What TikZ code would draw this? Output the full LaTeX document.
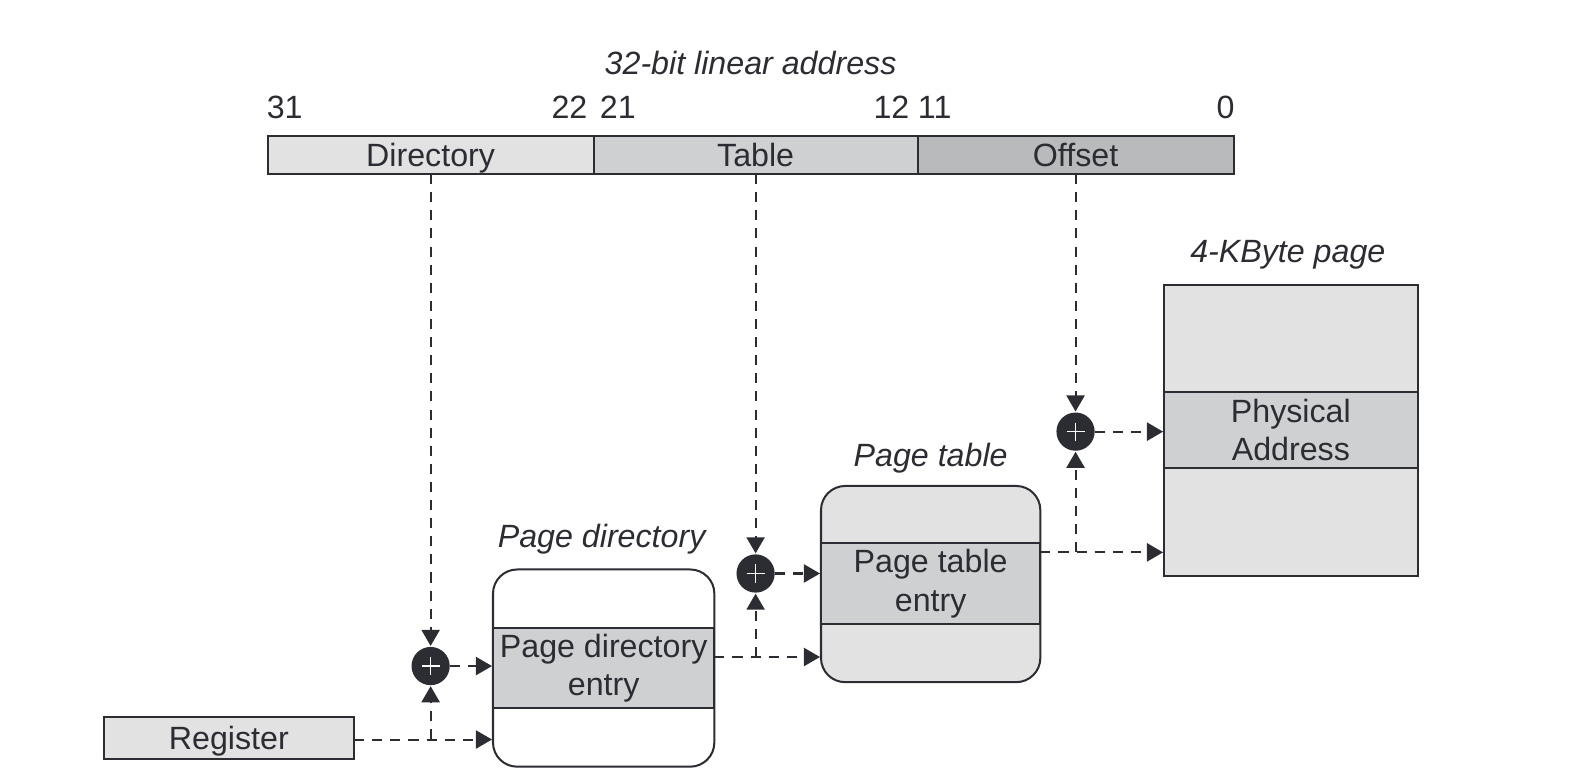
\documentclass[tikz,border=0pt]{standalone}
\usepackage{fontspec}
\setmainfont{Liberation Sans}
\definecolor{inkdark}{RGB}{43, 45, 51}
\definecolor{greylight}{RGB}{226, 226, 227}
\definecolor{greymid}{RGB}{207, 208, 210}
\definecolor{greydark}{RGB}{185, 186, 188}
\usetikzlibrary{arrows.meta, positioning, calc}

\begin{document}
\begin{tikzpicture}[x=0.5pt, y=-0.5pt, font=\fontsize{16}{19}\selectfont, text=inkdark,
  field/.style={draw=inkdark, line width=1pt, inner sep=0pt, outer sep=0pt, minimum height=19pt, text height=13pt, text depth=2pt},
  tablebox/.style={draw=inkdark, line width=1pt, inner sep=0pt, outer sep=0pt, minimum width=110pt, rounded corners=12pt},
  entry/.style={draw=inkdark, line width=1pt, fill=greymid, inner sep=0pt, outer sep=0pt, align=center, minimum width=110pt, minimum height=40pt},
  adder/.style={circle, fill=inkdark, minimum size=19pt, inner sep=0pt, outer sep=0pt},
  caption/.style={font=\fontsize{16}{19}\selectfont\itshape},
  link/.style={draw=inkdark, line width=1pt, dash pattern=on 5pt off 4pt, -{Triangle[length=8pt, width=9pt]}, shorten >=0.5pt}]
  \useasboundingbox (0,0) rectangle (1568.4,772.2);

  % Linear address
  \node[caption] (title) at (746,63) {32-bit linear address};
  \node (b31) at (283,107) {31};
  \node (b22) at (566,107) {22};
  \node (b21) at (614,107) {21};
  \node (b12) at (886,107) {12};
  \node (b11) at (929,107) {11};
  \node (b0) at (1218,107) {0};
  \node[field, fill=greylight, minimum width=162pt] (dir) at (428,154) {Directory};
  \node[field, fill=greymid, minimum width=161pt] (tab) at (751,154) {Table};
  \node[field, fill=greydark, minimum width=157pt] (off) at (1069,154) {Offset};

  % Register
  \node[field, fill=greylight, minimum width=124.5pt, minimum height=20.5pt] (reg) at (227.5,733.5) {Register};

  % Page directory
  \node[caption] (pdcap) at (598,536) {Page directory};
  \node[tablebox, fill=white, minimum height=98pt] (pdir) at (600,664) {};
  \node[entry] (pde) at (600,664) {Page directory\\entry};

  % Page table
  \node[caption] (ptcap) at (925,455) {Page table};
  \node[tablebox, fill=greylight, minimum width=109pt, minimum height=97.5pt] (ptab) at (925,580.5) {};
  \node[entry, minimum width=109pt] (pte) at (925,580) {Page table\\entry};

  % 4-KByte page
  \node[caption] (pgcap) at (1280,253) {4-KByte page};
  \node[field, fill=greylight, minimum width=126pt, minimum height=144.5pt] (page) at (1283,427.5) {};
  \node[entry, minimum width=126pt, minimum height=37.5pt] (phys) at (1283,427.5) {Physical\\Address};

  % Adders
  \node[adder] (add1) at (428,662) {};
  \node[adder] (add2) at (751,570) {};
  \node[adder] (add3) at (1069,429) {};
  \foreach \a in {add1, add2, add3} {
    \draw[white, line width=0.8pt] ($(\a)+(-9,0)$) -- ($(\a)+(9,0)$);
    \draw[white, line width=0.8pt] ($(\a)+(0,-9)$) -- ($(\a)+(0,9)$);
  }

  % Junctions
  \coordinate (j1) at (428,735);
  \coordinate (j2) at (751,653);
  \coordinate (j3) at (1069,549);

  % Connectors
  \draw[link] (dir.south -| add1) -- (add1.north);
  \draw[link] (tab.south -| add2) -- (add2.north);
  \draw[link] (off.south -| add3) -- (add3.north);

  \draw[link] (reg.east |- j1) -- (pdir.west |- j1);
  \draw[link] (j1) -- (add1.south);
  \draw[link] (add1.east) -- (pdir.west |- add1);

  \draw[link] (pde.east |- j2) -- (ptab.west |- j2);
  \draw[link] (j2) -- (add2.south);
  \draw[link] (add2.east) -- (ptab.west |- add2);

  \draw[link] (pte.east |- j3) -- (page.west |- j3);
  \draw[link] (j3) -- (add3.south);
  \draw[link] (add3.east) -- (page.west |- add3);
\end{tikzpicture}
\end{document}
